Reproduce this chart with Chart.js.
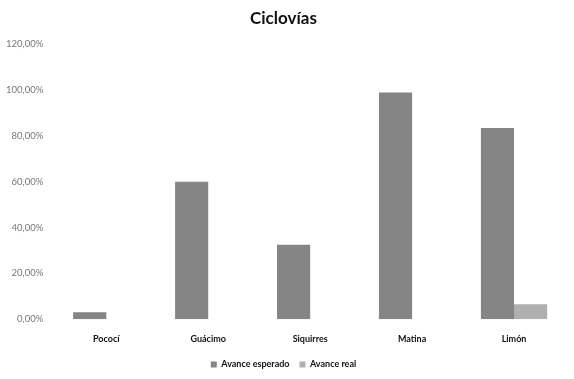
<!DOCTYPE html>
<html>
<head>
<meta charset="utf-8">
<script src="https://cdn.jsdelivr.net/npm/chart.js@4"></script>
<style>
  html, body { margin: 0; padding: 0; background: #fff; }
  #wrap { width: 574px; height: 379px; }
</style>
</head>
<body>
<div id="wrap"><canvas id="chartCiclovias" width="574" height="379"></canvas></div>
<script>
// Cantones y avance de las ciclovías (fracción de 1)
const cantones = ['Pococí', 'Guácimo', 'Siquirres', 'Matina', 'Limón'];
const avanceEsperado = [0.03, 0.60, 0.325, 0.99, 0.835];
const avanceReal = [0, 0, 0, 0, 0.065];
const tickLabels = ['0,00%', '20,00%', '40,00%', '60,00%', '80,00%', '100,00%', '120,00%'];

document.addEventListener('DOMContentLoaded', function() {
    const ctx = document.getElementById('chartCiclovias').getContext('2d');
    new Chart(ctx, {
        type: 'bar',
        data: {
            labels: cantones,
            datasets: [{
                label: 'Avance esperado',
                data: avanceEsperado,
                backgroundColor: '#858585',
                categoryPercentage: 0.65,
                barPercentage: 1.0
            }, {
                label: 'Avance real',
                data: avanceReal,
                backgroundColor: '#afafaf',
                categoryPercentage: 0.65,
                barPercentage: 1.0
            }]
        },
        options: {
            responsive: false,
            animation: false,
            layout: {
                padding: { left: 2, right: 9, top: 8, bottom: 0 }
            },
            plugins: {
                title: {
                    display: true,
                    text: 'Ciclovías',
                    font: { family: 'Lato', size: 17, weight: 'bold' },
                    color: '#111',
                    padding: { top: 0, bottom: 16 }
                },
                legend: {
                    position: 'bottom',
                    labels: {
                        boxWidth: 6,
                        boxHeight: 6,
                        padding: 10,
                        color: '#111',
                        font: { family: 'Lato', size: 9, weight: 'bold' }
                    }
                },
                tooltip: { enabled: false }
            },
            scales: {
                y: {
                    min: 0,
                    max: 1.2,
                    ticks: {
                        stepSize: 0.2,
                        color: '#777',
                        padding: 4,
                        font: { family: 'Lato', size: 9.5 },
                        callback: function(value, index) {
                            return tickLabels[index];
                        }
                    },
                    grid: { display: false },
                    border: { display: false }
                },
                x: {
                    ticks: {
                        color: '#111',
                        padding: 6,
                        font: { family: 'Lato', size: 9, weight: 'bold' }
                    },
                    grid: { display: false },
                    border: { display: false }
                }
            }
        }
    });
});
</script>
</body>
</html>
